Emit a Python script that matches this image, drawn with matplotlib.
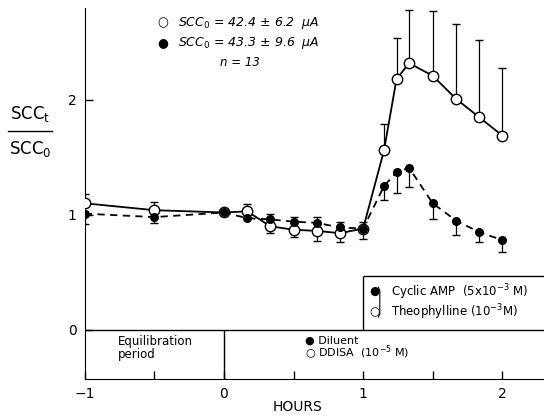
import matplotlib
matplotlib.use("Agg")
import matplotlib.pyplot as plt
from matplotlib.lines import Line2D

# time in hours, SCC_t / SCC_0 ratios
hours = [-1, -0.5, 0, 0.167, 0.333, 0.5, 0.667, 0.833, 1.0,
         1.15, 1.24, 1.33, 1.5, 1.667, 1.833, 2.0]

# open circles: DDISA, then theophylline
open_y = [1.10, 1.04, 1.02, 1.03, 0.90, 0.87, 0.86, 0.84, 0.88,
          1.56, 2.18, 2.32, 2.21, 2.01, 1.85, 1.69]
open_err = [0.08, 0.07, 0.0, 0.06, -0.06, -0.06, -0.09, -0.08, -0.09,
            0.23, 0.36, 0.46, 0.56, 0.65, 0.67, 0.59]  # + bar up, - bar down

# filled circles: diluent, then cyclic AMP
filled_y = [1.01, 0.98, 1.02, 0.97, 0.96, 0.94, 0.93, 0.89, 0.88,
            1.25, 1.37, 1.41, 1.10, 0.95, 0.85, 0.78]
filled_err = [-0.09, -0.05, 0.0, 0.0, 0.05, 0.04, 0.05, 0.05, 0.06,
              -0.12, -0.18, -0.17, -0.14, -0.13, -0.09, -0.10]

x_ticks = [-1, -0.5, 0, 0.5, 1, 1.5, 2]
x_ticklabels = ["\u22121", "", "0", "", "1", "", "2"]
y_ticks = [0, 1, 2]


def one_sided_bars(ax, x, y, err):
    # only one side of each bar is drawn in the original
    xs = [a for a, e in zip(x, err) if e != 0]
    y0 = [b for b, e in zip(y, err) if e != 0]
    tips = [b + e for b, e in zip(y, err) if e != 0]
    ax.vlines(xs, y0, tips, color="black", lw=0.9, zorder=2)
    ax.plot(xs, tips, ls="none", marker="_", ms=6, mew=1.0, color="black",
            zorder=2)


fig = plt.figure(figsize=(5.44, 4.18), dpi=100)
ax = fig.add_axes([0.156, 0.093, 0.844, 0.888])
ax.set_xlim(-1, 2.30)
ax.set_ylim(-0.43, 2.80)

one_sided_bars(ax, hours, open_y, open_err)
one_sided_bars(ax, hours, filled_y, filled_err)
ax.plot(hours, open_y, "-", color="black", lw=1.3, marker="o", ms=7.5,
        mfc="white", mec="black", mew=1.0, zorder=3)
ax.plot(hours, filled_y, color="black", lw=1.3, ls=(0, (4, 3)), marker="o",
        ms=5.5, mfc="black", mec="black", zorder=4)

# frame lines of the time bar under the curves
ax.axhline(0, color="black", lw=1.0)
ax.vlines(0, -0.43, 0, color="black", lw=1.0)
ax.vlines(1, 0, 0.47, color="black", lw=1.0)
ax.hlines(0.47, 1, 2.30, color="black", lw=1.0)

for s in ["top", "right"]:
    ax.spines[s].set_visible(False)
ax.set_xticks(x_ticks)
ax.set_xticklabels(x_ticklabels)
ax.set_yticks(y_ticks)
ax.tick_params(direction="in", length=6, width=1, labelsize=10, pad=6)

fs = 8.5
ax.text(-0.76, -0.05, "Equilibration\nperiod", fontsize=fs, va="top",
        ha="left", linespacing=1.0)
ax.text(0.58, -0.095, "\u25cf Diluent", fontsize=8, va="center")
ax.text(0.58, -0.205, "\u25cb DDISA  (10$^{-5}$ M)", fontsize=8, va="center")
ax.text(1.08, 0.33, "\u25cf", fontsize=fs, va="center", ha="center")
ax.text(1.08, 0.16, "\u25cb", fontsize=fs, va="center", ha="center")
ax.plot([1.11, 1.12, 1.12, 1.11], [0.37, 0.34, 0.14, 0.11], color="black",
        lw=0.8)
ax.text(1.20, 0.33, "Cyclic AMP  (5x10$^{-3}$ M)", fontsize=fs, va="center")
ax.text(1.20, 0.15, "Theophylline (10$^{-3}$M)", fontsize=fs, va="center")

# top annotations
fig.text(163 / 544, 1 - 23 / 418, "\u25cb", fontsize=9, ha="center", va="center")
fig.text(163 / 544, 1 - 43 / 418, "\u25cf", fontsize=9, ha="center", va="center")
fig.text(178 / 544, 1 - 23 / 418, "SCC$_{\\mathit{0}}$ = 42.4 \u00b1 6.2  \u03bcA",
         fontsize=9, style="italic", va="center")
fig.text(178 / 544, 1 - 43 / 418, "SCC$_{\\mathit{0}}$ = 43.3 \u00b1 9.6  \u03bcA",
         fontsize=9, style="italic", va="center")
fig.text(240 / 544, 1 - 63 / 418, "n = 13", fontsize=8.5, style="italic",
         ha="center", va="center")

# y label as a fraction
fig.text(30 / 544, 1 - 114 / 418, "SCC$_\\mathregular{t}$", fontsize=12,
         ha="center", va="center")
fig.text(30 / 544, 1 - 149 / 418, "SCC$_\\mathregular{0}$", fontsize=12,
         ha="center", va="center")
fig.add_artist(Line2D([8 / 544, 52 / 544], [1 - 131 / 418, 1 - 131 / 418],
                      color="black", lw=1.0, transform=fig.transFigure))

fig.text(298 / 544, 1 - 407 / 418, "HOURS", fontsize=10, ha="center",
         va="center")

fig.savefig("out.png", dpi=100)
